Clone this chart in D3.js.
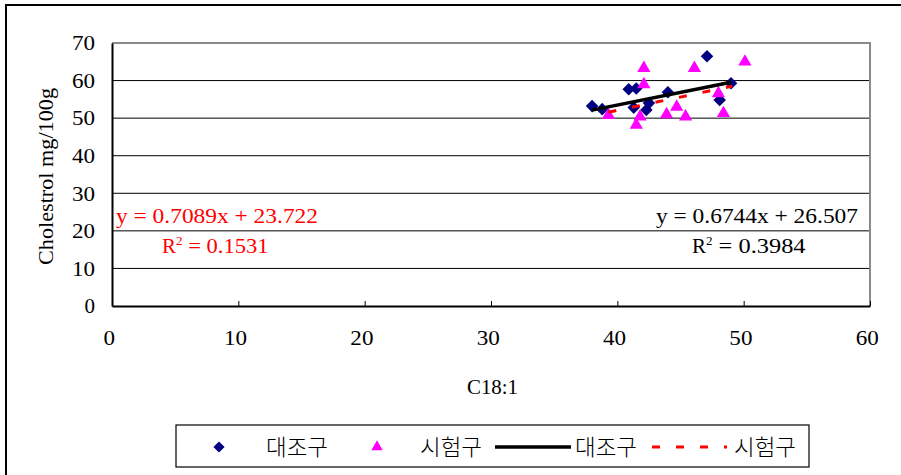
<!DOCTYPE html>
<html>
<head>
<meta charset="utf-8">
<script src="https://cdn.jsdelivr.net/npm/d3@7/dist/d3.min.js"></script>
<style>
  html, body { margin: 0; padding: 0; background: #fff; }
  svg { display: block; }
  text { font-family: "Liberation Serif", "Times New Roman", serif; }
  .kr { font-family: "Noto Sans CJK KR", sans-serif; font-weight: 300; }
</style>
</head>
<body>
<svg id="chart" width="901" height="475"></svg>
<script>
// C18:1 (x) vs cholesterol (y), control group (대조구) and treatment group (시험구)
const controlX = [38.0, 38.8, 40.9, 41.5, 41.3, 42.5, 42.3, 44.0, 47.1, 48.1, 49.0];
const controlY = [53.2, 52.4, 57.7, 57.9, 52.8, 54.0, 52.2, 56.9, 66.5, 54.8, 59.3];
const treatX = [39.3, 42.1, 42.1, 41.8, 41.5, 43.9, 44.7, 45.4, 46.1, 48.0, 48.4, 50.1];
const treatY = [50.8, 63.3, 59.0, 50.4, 48.2, 51.0, 53.0, 50.4, 63.3, 56.6, 51.3, 65.0];

// Linear trend fits: [slope, intercept], R², and x extent of each trend line
const controlFit = [0.6744, 26.507];
const controlR2 = 0.3984;
const controlSpan = [38.0, 49.0];
const treatFit = [0.7089, 23.722];
const treatR2 = 0.1531;
const treatSpan = [39.3, 49.1];

const xTicks = [0, 10, 20, 30, 40, 50, 60];
const yTicks = [0, 10, 20, 30, 40, 50, 60, 70];
const seriesNames = ["대조구", "시험구"];

const svg = d3.select("#chart");
const plot = { left: 112, right: 870, top: 43, bottom: 306 };
const FS = 21;

const x = d3.scaleLinear().domain([0, 60]).range([plot.left, plot.right]);
const y = d3.scaleLinear().domain([0, 70]).range([plot.bottom, plot.top]);

// outer chart frame (runs off the right and bottom edges)
svg.append("rect")
  .attr("x", 6).attr("y", 5).attr("width", 960).attr("height", 520)
  .attr("fill", "none").attr("stroke", "#000").attr("stroke-width", 2);

// gridlines
svg.append("g").selectAll("line")
  .data(yTicks.filter(d => d > 0 && d < 70))
  .join("line")
  .attr("x1", plot.left).attr("x2", plot.right)
  .attr("y1", d => y(d)).attr("y2", d => y(d))
  .attr("stroke", "#000").attr("stroke-width", 1);

// plot area frame: grey top/right
svg.append("path")
  .attr("d", `M${plot.left},${plot.top}H${plot.right}V${plot.bottom}`)
  .attr("fill", "none").attr("stroke", "#8a8a8a").attr("stroke-width", 2);

// x axis with inward ticks
const xAxis = d3.axisBottom(x).tickValues(xTicks).tickSize(-5).tickPadding(24).tickSizeOuter(0);
const gx = svg.append("g").attr("transform", `translate(0,${plot.bottom})`).call(xAxis);
gx.select(".domain").attr("stroke", "#000").attr("stroke-width", 2);
gx.selectAll(".tick line").attr("stroke", "#000");
gx.selectAll(".tick text")
  .attr("font-family", "Liberation Serif, serif").attr("font-size", FS)
  .attr("fill", "#000").attr("dx", -3)
  .attr("transform", "scale(1.1,1)");

// y axis
const yAxis = d3.axisLeft(y).tickValues(yTicks).tickSize(0).tickPadding(17).tickSizeOuter(0);
const gy = svg.append("g").attr("transform", `translate(${plot.left},0)`).call(yAxis);
gy.select(".domain").attr("stroke", "#000").attr("stroke-width", 2);
gy.selectAll(".tick text")
  .attr("font-family", "Liberation Serif, serif").attr("font-size", FS)
  .attr("fill", "#000").attr("textLength", 23).attr("lengthAdjust", "spacingAndGlyphs");
gy.selectAll(".tick text").filter(d => d === 0).attr("textLength", null);

// axis titles
svg.append("text")
  .attr("transform", `translate(53,${(plot.top + plot.bottom) / 2 + 2}) rotate(-90)`)
  .attr("text-anchor", "middle").attr("font-size", FS).attr("fill", "#000")
  .attr("textLength", 177).attr("lengthAdjust", "spacingAndGlyphs")
  .text("Cholestrol mg/100g");
svg.append("text")
  .attr("x", 467).attr("y", 394)
  .attr("font-size", FS).attr("fill", "#000")
  .attr("textLength", 51).attr("lengthAdjust", "spacingAndGlyphs")
  .text("C18:1");

// markers
const diamond = d3.symbol().type(d3.symbolDiamond2).size(100);
const triangle = d3.symbol().type(d3.symbolTriangle2).size(125);

const controlPts = controlX.map((v, i) => [v, controlY[i]]);
const treatPts = treatX.map((v, i) => [v, treatY[i]]);

svg.append("g").selectAll("path")
  .data(controlPts).join("path")
  .attr("d", diamond)
  .attr("transform", d => `translate(${x(d[0])},${y(d[1])})`)
  .attr("fill", "#000080");

svg.append("g").selectAll("path")
  .data(treatPts).join("path")
  .attr("d", triangle)
  .attr("transform", d => `translate(${x(d[0])},${y(d[1])})`)
  .attr("fill", "#ff00ff");

// trend lines
const fitLine = (fit, span) => span.map(v => [v, fit[0] * v + fit[1]]);
const line = d3.line().x(d => x(d[0])).y(d => y(d[1]));

svg.append("path")
  .datum(fitLine(treatFit, treatSpan))
  .attr("d", line)
  .attr("fill", "none").attr("stroke", "#ff0000").attr("stroke-width", 3)
  .attr("stroke-dasharray", "8,16");

svg.append("path")
  .datum(fitLine(controlFit, controlSpan))
  .attr("d", line)
  .attr("fill", "none").attr("stroke", "#000").attr("stroke-width", 3.5);

// fit equations
function equation(g, fit, r2, color, xEq, xR, wR) {
  g.append("text").attr("x", xEq).attr("y", 223)
    .attr("font-size", FS).attr("fill", color)
    .attr("textLength", 202).attr("lengthAdjust", "spacingAndGlyphs")
    .text(`y = ${fit[0].toFixed(4)}x + ${fit[1].toFixed(3)}`);
  const t = g.append("text").attr("x", xR).attr("y", 253)
    .attr("font-size", FS).attr("fill", color);
  t.append("tspan").text("R");
  t.append("tspan").attr("dy", -8).attr("font-size", 13).text("2");
  t.append("tspan").attr("dy", 8)
    .attr("textLength", wR).attr("lengthAdjust", "spacingAndGlyphs")
    .text(` = ${r2.toFixed(4)}`);
}
equation(svg.append("g"), treatFit, treatR2, "#ff0000", 116, 162, 86);
equation(svg.append("g"), controlFit, controlR2, "#000", 656, 692, 93);

// legend
const lg = svg.append("g");
lg.append("rect").attr("x", 176).attr("y", 425).attr("width", 633).attr("height", 42)
  .attr("fill", "#fff").attr("stroke", "#000").attr("stroke-width", 1.2);
const ly = 447;
lg.append("path").attr("d", d3.symbol().type(d3.symbolDiamond2).size(80))
  .attr("transform", `translate(219,${ly})`).attr("fill", "#000080");
lg.append("path").attr("d", d3.symbol().type(d3.symbolTriangle2).size(95))
  .attr("transform", `translate(377,${ly})`).attr("fill", "#ff00ff");
lg.append("line").attr("x1", 495).attr("x2", 571).attr("y1", ly).attr("y2", ly)
  .attr("stroke", "#000").attr("stroke-width", 3.5);
lg.append("line").attr("x1", 652).attr("x2", 727).attr("y1", ly).attr("y2", ly)
  .attr("stroke", "#ff0000").attr("stroke-width", 3).attr("stroke-dasharray", "8,16");
const labels = [[266, seriesNames[0]], [420, seriesNames[1]], [575, seriesNames[0]], [734, seriesNames[1]]];
lg.selectAll("text.kr").data(labels).join("text")
  .attr("class", "kr")
  .attr("x", d => d[0]).attr("y", ly + 8)
  .attr("font-size", 22).attr("fill", "#000")
  .attr("textLength", 62).attr("lengthAdjust", "spacingAndGlyphs")
  .text(d => d[1]);
</script>
</body>
</html>
